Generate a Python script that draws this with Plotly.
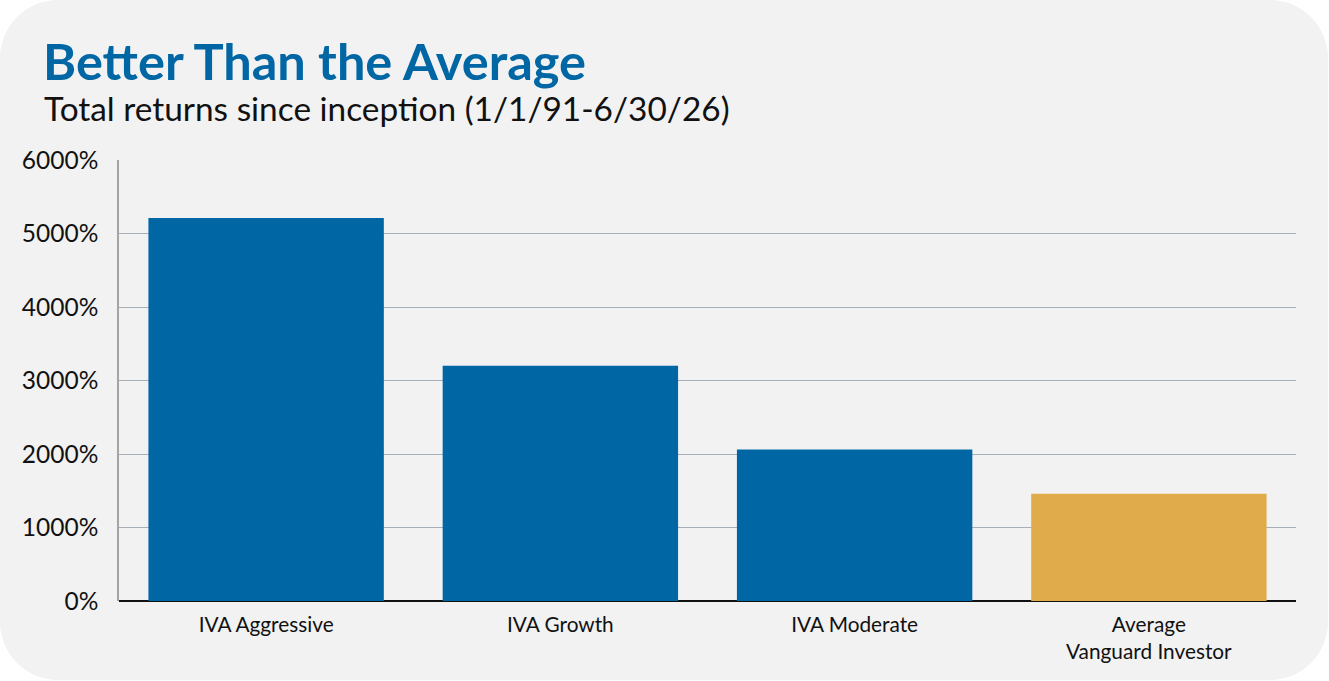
import plotly.graph_objects as go

categories = ["IVA Aggressive", "IVA Growth", "IVA Moderate", "Average<br>Vanguard Investor"]
returns_pct = [5210, 3200, 2060, 1460]
bar_colors = ["#0066a4", "#0066a4", "#0066a4", "#e0ab4b"]
y_ticks = [0, 1000, 2000, 3000, 4000, 5000, 6000]
y_tick_labels = [f"{v}%" for v in y_ticks]

W, H = 1329, 681
L, R, T, B = 119, 33, 160, 80
PW, PH = W - L - R, H - T - B

def px(x):
    return (x - L) / PW

def py(y):
    return (H - B - y) / PH

def rounded_rect(x0, y0, x1, y1, r):
    k = 0.5523 * r
    p = f"M {px(x0 + r)} {py(y0)} "
    p += f"L {px(x1 - r)} {py(y0)} "
    p += f"C {px(x1 - r + k)} {py(y0)} {px(x1)} {py(y0 + r - k)} {px(x1)} {py(y0 + r)} "
    p += f"L {px(x1)} {py(y1 - r)} "
    p += f"C {px(x1)} {py(y1 - r + k)} {px(x1 - r + k)} {py(y1)} {px(x1 - r)} {py(y1)} "
    p += f"L {px(x0 + r)} {py(y1)} "
    p += f"C {px(x0 + r - k)} {py(y1)} {px(x0)} {py(y1 - r + k)} {px(x0)} {py(y1 - r)} "
    p += f"L {px(x0)} {py(y0 + r)} "
    p += f"C {px(x0)} {py(y0 + r - k)} {px(x0 + r - k)} {py(y0)} {px(x0 + r)} {py(y0)} Z"
    return p

fig = go.Figure()
fig.add_trace(go.Bar(
    x=categories, y=returns_pct,
    marker=dict(color=bar_colors, line=dict(width=0)),
    width=0.8, hoverinfo="skip",
))

fig.add_shape(type="path", xref="paper", yref="paper",
              path=rounded_rect(0, 0, 1328, 680, 58),
              fillcolor="#f2f2f2", line=dict(width=0), layer="below")

fig.add_annotation(text="<b>Better Than the Average</b>", xref="paper", yref="paper",
                   x=px(41), y=py(61), xanchor="left", yanchor="middle", showarrow=False,
                   font=dict(family="Lato", size=50.5, color="#0066a4"))
fig.add_annotation(text="Total returns since inception (1/1/91-6/30/26)", xref="paper", yref="paper",
                   x=px(42), y=py(108), xanchor="left", yanchor="middle", showarrow=False,
                   font=dict(family="Lato", size=33.4, color="#111111"))

fig.update_layout(
    width=W, height=H,
    margin=dict(l=L, r=R, t=T, b=B, pad=0),
    paper_bgcolor="white", plot_bgcolor="rgba(0,0,0,0)",
    showlegend=False, bargap=0.2,
    font=dict(family="Lato", color="#111111"),
)
fig.update_xaxes(showgrid=False, showline=False, ticks="", tickfont=dict(size=20.8),
                 ticklabelstandoff=9)
fig.update_yaxes(range=[0, 6000], tickvals=y_ticks, ticktext=y_tick_labels,
                 showgrid=True, gridcolor="#a7afba", gridwidth=1.3,
                 zeroline=True, zerolinecolor="#111111", zerolinewidth=2,
                 showline=True, linecolor="#a4a4a4", linewidth=1.5,
                 ticks="", tickfont=dict(size=24.5), ticklabelstandoff=14)

fig.write_html("out.html")
